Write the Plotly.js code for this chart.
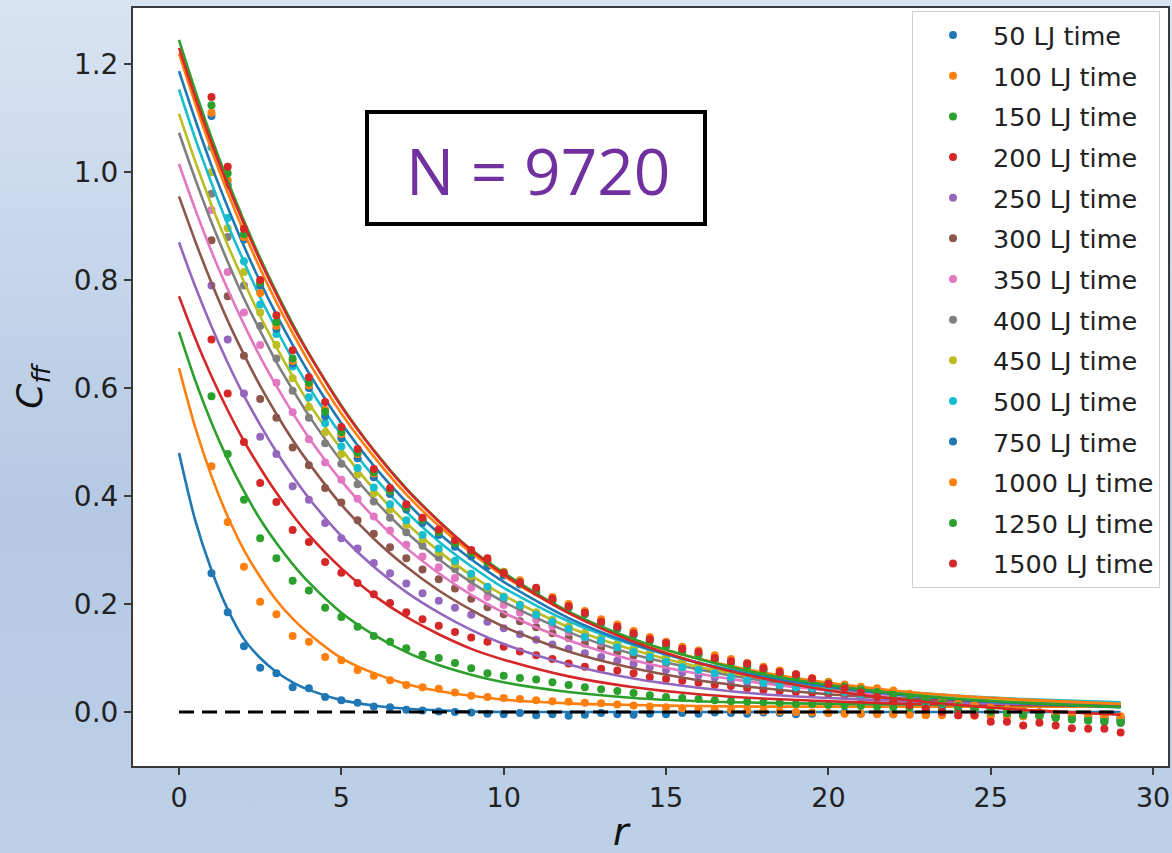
<!DOCTYPE html>
<html>
<head>
<meta charset="utf-8">
<script src="https://cdn.plot.ly/plotly-3.0.1.min.js"></script>
<style>
html,body{margin:0;padding:0;}
body{width:1172px;height:853px;overflow:hidden;
background:linear-gradient(to bottom,#d9e4f2 0%,#c3d4ea 35%,#b5c9e3 60%,#bcd0e8 100%);}
#chart{width:1172px;height:853px;}
</style>
</head>
<body>
<div id="chart"></div>
<script>
// x positions of measured points (r)
const rDots = [1,1.5,2,2.5,3,3.5,4,4.5,5,5.5,6,6.5,7,7.5,8,8.5,9,9.5,10,10.5,11,11.5,12,12.5,13,13.5,14,14.5,15,15.5,16,16.5,17,17.5,18,18.5,19,19.5,20,20.5,21,21.5,22,22.5,23,23.5,24,24.5,25,25.5,26,26.5,27,27.5,28,28.5,29];
// x positions of fitted curves
const rFit = [0,0.5,1,1.5,2,2.5,3,3.5,4,5,6,7,8,9,10,12,14,16,18,20,22,24,26,29];

const labels = ['50 LJ time','100 LJ time','150 LJ time','200 LJ time','250 LJ time','300 LJ time','350 LJ time','400 LJ time','450 LJ time','500 LJ time','750 LJ time','1000 LJ time','1250 LJ time','1500 LJ time'];
const colors = ['#1f77b4','#ff7f0e','#2ca02c','#d62728','#9467bd','#8c564b','#e377c2','#7f7f7f','#bcbd22','#17becf','#1f77b4','#ff7f0e','#2ca02c','#d62728'];

// measured C_ff points
const dots50 = [.257,.185,.122,.082,.072,.046,.044,.028,.022,.017,
.010,.009,.004,.003,.001,.000,-.001,-.003,-.004,-.002,
-.006,-.004,-.007,-.005,-.002,-.004,-.005,-.003,-.004,-.002,
-.003,-.001,-.002,-.003,-.001,-.002,-.004,-.003,-.002,-.001,
-.003,-.002,-.004,-.003,-.005,-.004,-.006,-.005,-.007,-.006,
-.008,-.007,-.008,-.009,-.008,-.010,-.011];
const dots100 = [.455,.352,.269,.204,.181,.141,.130,.102,.096,.078,
.067,.059,.050,.046,.043,.036,.030,.028,.026,.024,
.022,.020,.019,.017,.016,.014,.012,.010,.009,.007,
.006,.005,.004,.003,.002,.001,.000,-.001,-.002,-.003,
-.003,-.004,-.004,-.005,-.006,-.006,-.006,-.007,-.007,-.008,
-.008,-.008,-.009,-.009,-.010,-.010,-.011];
const dots150 = [.585,.478,.393,.322,.285,.243,.225,.193,.176,.158,
.141,.130,.118,.106,.100,.091,.081,.072,.067,.063,
.060,.055,.050,.046,.042,.039,.035,.031,.028,.026,
.024,.022,.020,.019,.018,.017,.015,.015,.013,.012,
.011,.010,.009,.008,.006,.005,.003,.002,.000,-.002,
-.003,-.005,-.006,-.008,-.009,-.011,-.013];
const dots200 = [.690,.590,.500,.424,.389,.337,.315,.278,.258,.239,
.218,.202,.185,.172,.160,.148,.138,.130,.121,.112,
.105,.098,.090,.084,.080,.077,.072,.065,.061,.058,
.054,.050,.048,.044,.041,.039,.037,.035,.033,.030,
.027,.024,.021,.018,.015,.012,.009,.006,.003,.000,
-.003,-.005,-.008,-.010,-.012,-.014,-.016];
const dots250 = [.790,.690,.590,.510,.478,.418,.393,.350,.322,.303,
.276,.257,.238,.220,.206,.193,.180,.167,.155,.144,
.134,.125,.117,.109,.102,.095,.089,.083,.078,.073,
.068,.064,.059,.055,.051,.048,.045,.041,.038,.034,
.031,.027,.024,.021,.017,.014,.011,.008,.005,.002,
.000,-.003,-.005,-.007,-.009,-.011,-.013];
const dots300 = [.874,.770,.660,.580,.545,.490,.457,.415,.388,.355,
.330,.305,.285,.264,.246,.229,.210,.194,.181,.168,
.157,.146,.137,.127,.119,.111,.104,.097,.091,.085,
.079,.074,.069,.064,.060,.056,.052,.048,.044,.040,
.036,.032,.028,.025,.021,.018,.014,.011,.008,.005,
.002,-.001,-.004,-.006,-.009,-.011,-.014];
const dots350 = [.930,.815,.740,.680,.610,.555,.505,.462,.430,.395,
.362,.336,.310,.288,.268,.248,.230,.213,.198,.184,
.171,.159,.148,.138,.128,.120,.111,.104,.097,.090,
.084,.078,.072,.067,.062,.058,.053,.049,.045,.041,
.037,.033,.029,.026,.022,.018,.015,.012,.008,.005,
.002,-.001,-.004,-.007,-.009,-.012,-.014];
const dots400 = [.960,.880,.790,.715,.655,.595,.545,.498,.460,.422,
.390,.360,.333,.308,.286,.265,.245,.225,.210,.195,
.181,.168,.156,.145,.135,.125,.116,.108,.100,.093,
.086,.080,.074,.068,.063,.058,.054,.049,.045,.041,
.037,.033,.029,.026,.022,.018,.015,.011,.008,.005,
.002,-.001,-.004,-.007,-.010,-.012,-.015];
const dots450 = [1.000,.896,.815,.740,.680,.618,.565,.518,.478,.440,
.405,.375,.347,.320,.296,.274,.252,.230,.214,.199,
.185,.171,.159,.147,.137,.127,.118,.109,.101,.094,
.087,.080,.074,.068,.063,.058,.053,.049,.045,.041,
.037,.033,.029,.025,.022,.018,.014,.011,.007,.004,
.001,-.002,-.005,-.008,-.010,-.013,-.016];
const dots500 = [1.046,.915,.835,.755,.700,.640,.583,.535,.492,.452,
.416,.385,.355,.328,.303,.280,.256,.232,.213,.198,
.180,.167,.154,.139,.133,.120,.111,.102,.093,.083,
.078,.072,.065,.059,.054,.050,.046,.044,.041,.037,
.033,.029,.026,.022,.018,.015,.011,.008,.005,.002,
-.001,-.004,-.007,-.009,-.012,-.014,-.017];
const dots750 = [1.104,.976,.875,.790,.710,.645,.600,.548,.507,.470,
.435,.404,.375,.350,.328,.306,.288,.270,.253,.236,
.222,.206,.193,.181,.164,.154,.142,.132,.122,.112,
.106,.097,.091,.084,.077,.070,.064,.058,.052,.046,
.041,.036,.031,.026,.021,.016,.011,.007,.003,-.001,
-.004,-.007,-.010,-.013,-.015,-.018,-.020];
const dots1000 = [1.110,.985,.880,.776,.715,.650,.605,.560,.515,.478,
.442,.410,.380,.357,.334,.314,.296,.280,.260,.244,
.229,.213,.200,.187,.172,.162,.150,.139,.130,.121,
.114,.105,.098,.091,.084,.077,.070,.063,.056,.051,
.047,.044,.040,.034,.028,.022,.016,.012,.008,.005,
.002,-.001,-.003,-.005,-.006,-.007,-.008];
const dots1250 = [1.124,.998,.885,.795,.722,.655,.610,.556,.518,.480,
.444,.410,.380,.356,.334,.313,.295,.278,.258,.240,
.225,.208,.195,.182,.166,.156,.144,.133,.124,.114,
.107,.098,.091,.085,.078,.071,.065,.059,.053,.047,
.042,.037,.032,.027,.021,.016,.011,.006,.002,-.002,
-.005,-.008,-.011,-.014,-.016,-.018,-.020];
const dots1500 = [1.139,1.010,.895,.800,.735,.670,.620,.574,.528,.487,
.450,.415,.385,.360,.338,.318,.300,.285,.257,.240,
.230,.210,.196,.184,.167,.158,.146,.135,.128,.117,
.111,.100,.094,.090,.081,.074,.070,.062,.052,.044,
.036,.028,.020,.013,.006,.000,-.006,-.006,-.018,-.018,
-.025,-.020,-.025,-.030,-.031,-.031,-.038];

// fitted curves, read at rFit
const fit50 = [0.48,0.355,0.263,0.19,0.135,0.1,0.074,0.055,0.041,0.022,0.012,0.006,0.003,0.001,0,0,0,0,0,0,0,0,0,0];
const fit100 = [0.637,0.527,0.437,0.362,0.30,0.25,0.207,0.173,0.145,0.10,0.072,0.052,0.039,0.030,0.023,0.016,0.013,0.011,0.010,0.010,0.010,0.010,0.010,0.010];
const fit150 = [0.704,0.614,0.536,0.468,0.409,0.357,0.313,0.274,0.24,0.184,0.143,0.111,0.087,0.069,0.055,0.037,0.026,0.020,0.017,0.015,0.014,0.013,0.0125,0.012];
const fit200 = [0.77,0.692,0.622,0.559,0.502,0.452,0.406,0.365,0.328,0.266,0.216,0.176,0.144,0.117,0.097,0.066,0.046,0.033,0.025,0.02,0.016,0.014,0.013,0.011];
const fit250 = [0.87,0.788,0.714,0.647,0.586,0.532,0.482,0.437,0.396,0.326,0.269,0.222,0.184,0.152,0.126,0.088,0.062,0.045,0.033,0.026,0.021,0.017,0.015,0.013];
const fit300 = [0.955,0.872,0.795,0.725,0.662,0.604,0.552,0.504,0.461,0.384,0.321,0.269,0.225,0.189,0.158,0.112,0.081,0.059,0.044,0.033,0.026,0.021,0.018,0.014];
const fit350 = [1.015,0.931,0.853,0.783,0.718,0.658,0.604,0.554,0.508,0.428,0.361,0.304,0.257,0.217,0.184,0.133,0.096,0.071,0.053,0.04,0.031,0.025,0.02,0.016];
const fit400 = [1.073,0.987,0.907,0.834,0.766,0.706,0.648,0.597,0.549,0.465,0.394,0.333,0.283,0.24,0.204,0.148,0.107,0.079,0.058,0.044,0.034,0.026,0.021,0.016];
const fit450 = [1.108,1.02,0.939,0.865,0.797,0.733,0.676,0.622,0.572,0.487,0.413,0.35,0.298,0.253,0.216,0.157,0.115,0.084,0.063,0.047,0.036,0.028,0.022,0.017];
const fit500 = [1.153,1.062,0.98,0.903,0.834,0.768,0.709,0.653,0.602,0.513,0.436,0.371,0.316,0.27,0.23,0.168,0.124,0.091,0.068,0.051,0.039,0.03,0.024,0.018];
const fit750 = [1.187,1.097,1.012,0.935,0.863,0.797,0.736,0.68,0.628,0.535,0.456,0.389,0.331,0.283,0.241,0.174,0.126,0.091,0.065,0.047,0.033,0.023,0.016,0.009];
const fit1000 = [1.22,1.127,1.041,0.962,0.889,0.821,0.759,0.702,0.648,0.553,0.473,0.403,0.345,0.295,0.252,0.184,0.134,0.099,0.073,0.054,0.04,0.03,0.023,0.015];
const fit1250 = [1.245,1.151,1.064,0.984,0.91,0.841,0.778,0.719,0.664,0.568,0.485,0.414,0.354,0.301,0.258,0.186,0.135,0.098,0.07,0.05,0.035,0.024,0.017,0.009];
const fit1500 = [1.23,1.139,1.054,0.976,0.904,0.836,0.774,0.715,0.663,0.566,0.484,0.413,0.353,0.30,0.255,0.183,0.13,0.091,0.062,0.04,0.025,0.013,0.004,-0.005];

const zeroX = [0, 29];
const zeroY = [0, 0];

const xTicks = [0,5,10,15,20,25,30];
const yTicks = [0.0,0.2,0.4,0.6,0.8,1.0,1.2];

const allDots = [dots50,dots100,dots150,dots200,dots250,dots300,dots350,dots400,dots450,dots500,dots750,dots1000,dots1250,dots1500];
const allFits = [fit50,fit100,fit150,fit200,fit250,fit300,fit350,fit400,fit450,fit500,fit750,fit1000,fit1250,fit1500];

const traces = [];
for (let i = 0; i < labels.length; i++) {
  traces.push({
    type:'scatter', mode:'markers', x:rDots, y:allDots[i], name:labels[i],
    legendgroup:'g'+i, marker:{color:colors[i], size:8}, showlegend:true
  });
  traces.push({
    type:'scatter', mode:'lines', x:rFit, y:allFits[i], name:labels[i]+' fit',
    legendgroup:'g'+i, line:{color:colors[i], width:2.6, shape:'spline', smoothing:0.8}, showlegend:false
  });
}
traces.push({type:'scatter', mode:'lines', x:zeroX, y:zeroY, showlegend:false,
  line:{color:'#000', width:3, dash:'15px,8px'}});

const W = 1172, H = 853;
const mL = 133, mR = 4, mT = 8, mB = 87;
const pw = W - mL - mR, ph = H - mT - mB;
const px2x = p => (p - mL) / pw;
const px2y = p => (H - mB - p) / ph;

const layout = {
  width: W, height: H, autosize:false,
  margin:{l:mL, r:mR, t:mT, b:mB, pad:0},
  paper_bgcolor:'rgba(0,0,0,0)', plot_bgcolor:'#ffffff',
  font:{family:'DejaVu Sans, sans-serif', color:'#222', size:26},
  showlegend:true,
  xaxis:{range:[-1.417,30.46], tickvals:xTicks, ticktext:xTicks.map(String),
    showgrid:false, zeroline:false, showline:true, mirror:true, linecolor:'#3a3a3a', linewidth:2,
    ticks:'outside', ticklen:7, tickwidth:2, tickcolor:'#3a3a3a',
    tickfont:{size:27, family:'DejaVu Sans, sans-serif', color:'#222'}},
  yaxis:{range:[-0.1,1.304], tickvals:yTicks, ticktext:yTicks.map(v=>v.toFixed(1)),
    showgrid:false, zeroline:false, showline:true, mirror:true, linecolor:'#3a3a3a', linewidth:2,
    ticks:'outside', ticklen:7, tickwidth:2, tickcolor:'#3a3a3a',
    tickfont:{size:28, family:'DejaVu Sans, sans-serif', color:'#222'},
    title:{text:'<i>C</i><sub><i>ff</i></sub>', font:{size:36, family:'DejaVu Sans, sans-serif', color:'#111'}, standoff:20}},
  legend:{x:px2x(912), xanchor:'left', y:px2y(11), yanchor:'top',
    bgcolor:'#ffffff', bordercolor:'#d0d0d0', borderwidth:1,
    font:{size:25.5, family:'DejaVu Sans, sans-serif', color:'#222'},
    itemwidth:70, tracegroupgap:4.5, traceorder:'grouped'},
  shapes:[{type:'rect', xref:'paper', yref:'paper', x0:px2x(367), x1:px2x(705), y0:px2y(224), y1:px2y(112),
    line:{color:'#000', width:4}, fillcolor:'#ffffff', layer:'above'}],
  annotations:[
    {xref:'paper', yref:'paper', x:px2x(538), y:px2y(170), text:'N = 9720', showarrow:false,
     xanchor:'center', yanchor:'middle', font:{family:'Open Sans, sans-serif', size:64, color:'#7030a0'}},
    {xref:'paper', yref:'paper', x:px2x(622), y:px2y(832), text:'<i>r</i>', showarrow:false,
     xanchor:'center', yanchor:'middle', font:{family:'DejaVu Sans, sans-serif', size:38, color:'#111'}}
  ]
};

Plotly.newPlot('chart', traces, layout, {displayModeBar:false, staticPlot:true});
</script>
</body>
</html>
